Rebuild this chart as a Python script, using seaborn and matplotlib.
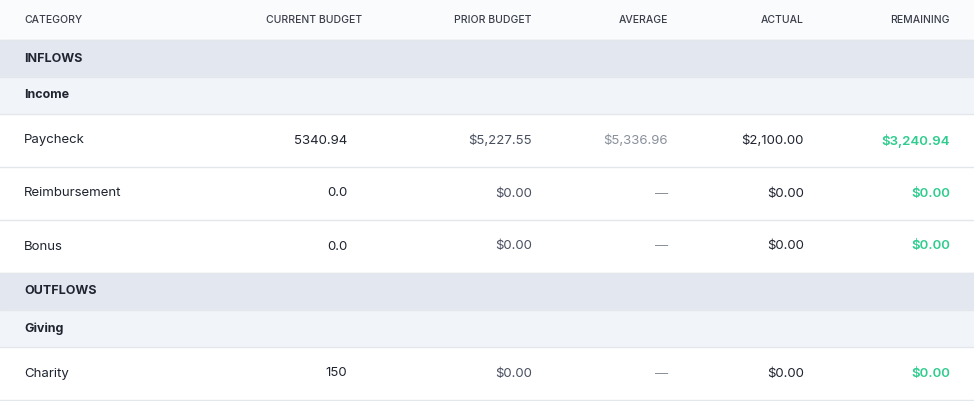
import matplotlib
matplotlib.use("Agg")
import matplotlib.pyplot as plt
import seaborn as sns

sns.set_theme(style="white")
plt.rcParams['font.family'] = ['Inter', 'DejaVu Sans']

columns = ["CATEGORY", "CURRENT BUDGET", "PRIOR BUDGET", "AVERAGE", "ACTUAL", "REMAINING"]
# (kind, label, current, prior, average, actual, remaining)
rows = [
    ("group", "INFLOWS"),
    ("sub", "Income"),
    ("item", "Paycheck", "5340.94", "$5,227.55", "$5,336.96", "$2,100.00", "$3,240.94"),
    ("item", "Reimbursement", "0.0", "$0.00", "—", "$0.00", "$0.00"),
    ("item", "Bonus", "0.0", "$0.00", "—", "$0.00", "$0.00"),
    ("group", "OUTFLOWS"),
    ("sub", "Giving"),
    ("item", "Charity", "150", "$0.00", "—", "$0.00", "$0.00"),
]

W, H = 974, 401
header_h = 40
heights = {"group": 37, "sub": 37, "item": 53}
bgs = {"group": "#e3e8f0", "sub": "#f1f4f8", "item": "#ffffff"}
header_x = [24, 362, 532, 668, 804, 950]
value_x = [24, 347, 532, 668, 804, 950]
value_colors = ["#1f2430", "#1f2430", "#4a5060", "#8a909c", "#1f2430", "#2ecc8e"]

fig = plt.figure(figsize=(W / 100, H / 100), dpi=100)
ax = fig.add_axes([0, 0, 1, 1])
ax.set_xlim(0, W)
ax.set_ylim(H, 0)
ax.axis("off")

ax.axhspan(0, header_h, color="#fafbfc", zorder=0)
for i, c in enumerate(columns):
    ax.text(header_x[i], header_h / 2, c, ha="left" if i == 0 else "right", va="center",
            fontsize=7.5, color="#3a3f4b", fontweight="medium")
ax.axhline(header_h, color="#e3e6eb", lw=1)

y = header_h
for r in rows:
    kind = r[0]
    h = heights[kind]
    ax.axhspan(y, y + h, color=bgs[kind], zorder=0)
    mid = y + h / 2
    if kind == "group":
        ax.text(24, mid, r[1], ha="left", va="center", fontsize=9, fontweight="bold", color="#1f2430")
    elif kind == "sub":
        ax.text(24, mid, r[1], ha="left", va="center", fontsize=9, fontweight="bold", color="#1f2430")
    else:
        for i, v in enumerate(r[1:]):
            ax.text(value_x[i], mid, v, ha="left" if i == 0 else "right", va="center",
                    fontsize=9.5, color=value_colors[i],
                    fontweight="semibold" if i == 5 else "normal")
    y += h
    ax.axhline(y, color="#e3e6eb", lw=1)

fig.savefig("out.png", dpi=100)
